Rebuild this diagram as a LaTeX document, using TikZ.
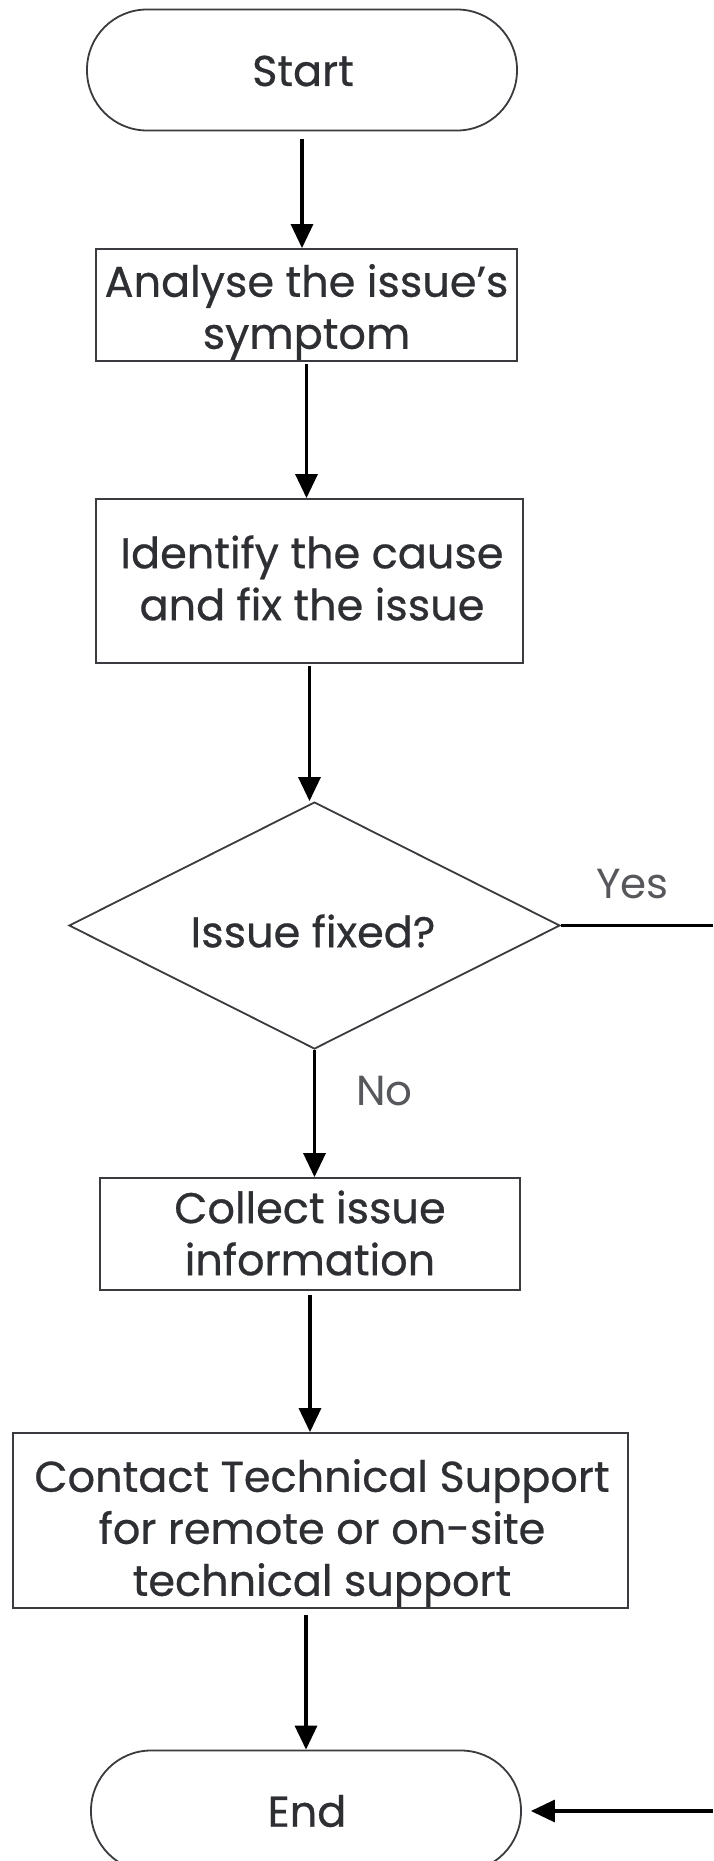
\documentclass[tikz,border=0pt]{standalone}
\usepackage{fontspec}
\setmainfont{Poppins}
\usetikzlibrary{arrows.meta,shapes.geometric,calc}
\definecolor{txt}{HTML}{2D2F33}
\definecolor{bord}{HTML}{3A3B3E}
\begin{document}
\begin{tikzpicture}[x=1pt,y=-1pt,
  every node/.style={text=txt,font=\fontsize{43}{52}\selectfont\addfontfeature{FakeBold=0.6},align=center,inner sep=0pt},
  box/.style={draw=bord,line width=1.8pt,rectangle},
  pill/.style={draw=bord,line width=1.8pt,rectangle,rounded corners=60pt,minimum width=430pt,minimum height=121pt},
  dia/.style={draw=bord,line width=1.8pt,diamond,minimum width=491pt,minimum height=247pt,aspect=2},
  conn/.style={line width=3.3pt,black,-{Triangle[length=24pt,width=22pt]}},
  lbl/.style={text=txt!80,font=\fontsize{42}{48}\selectfont}]
\useasboundingbox (0,0) rectangle (713,1861);
\fill[white] (0,0) rectangle (713,1861);
\node[pill] (start) at (302,70) {};
\node at (303,71) {Start};
\node[box,minimum width=421pt,minimum height=112pt] (analyse) at (306.5,305) {};
\node at (306.5,312) {Analyse the issue’s\\symptom};
\node[box,minimum width=427pt,minimum height=164pt] (identify) at (309.5,581) {};
\node at (312,578) {Identify the cause\\and fix the issue};
\node[dia] (dec) at (314.5,925.5) {};
\node at (313,931) {Issue fixed?};
\node[box,minimum width=420pt,minimum height=112pt] (collect) at (310,1234) {};
\node at (310,1233) {Collect issue\\information};
\node[box,minimum width=615pt,minimum height=175pt] (contact) at (320.5,1520.5) {};
\node at (322,1533) {Contact Technical Support\\for remote or on-site\\technical support};
\node[pill] (end) at (306,1811) {};
\node at (307,1811) {End};
\coordinate (yesend) at (713,925.5);
\coordinate (endin) at (713,1811);
\draw[conn,shorten <=8pt] (start.south) -- (start.south |- analyse.north);
\draw[conn,shorten <=2pt] (analyse.south) -- (analyse.south |- identify.north);
\draw[conn,shorten <=2pt] (identify.south) -- (identify.south |- dec.north);
\draw[conn] (dec.south) -- (dec.south |- collect.north) node[lbl,pos=0.32,right=40pt] {No};
\draw[conn,shorten <=4pt] (collect.south) -- (collect.south |- contact.north);
\draw[conn,shorten <=6pt] (contact.south -| end.north) -- (end.north);
\draw[line width=3.3pt,black] (dec.east) -- (yesend) node[lbl,pos=0.47,above=25pt] {Yes};
\draw[conn,shorten >=9pt] (endin) -- (end.east);
\end{tikzpicture}
\end{document}
